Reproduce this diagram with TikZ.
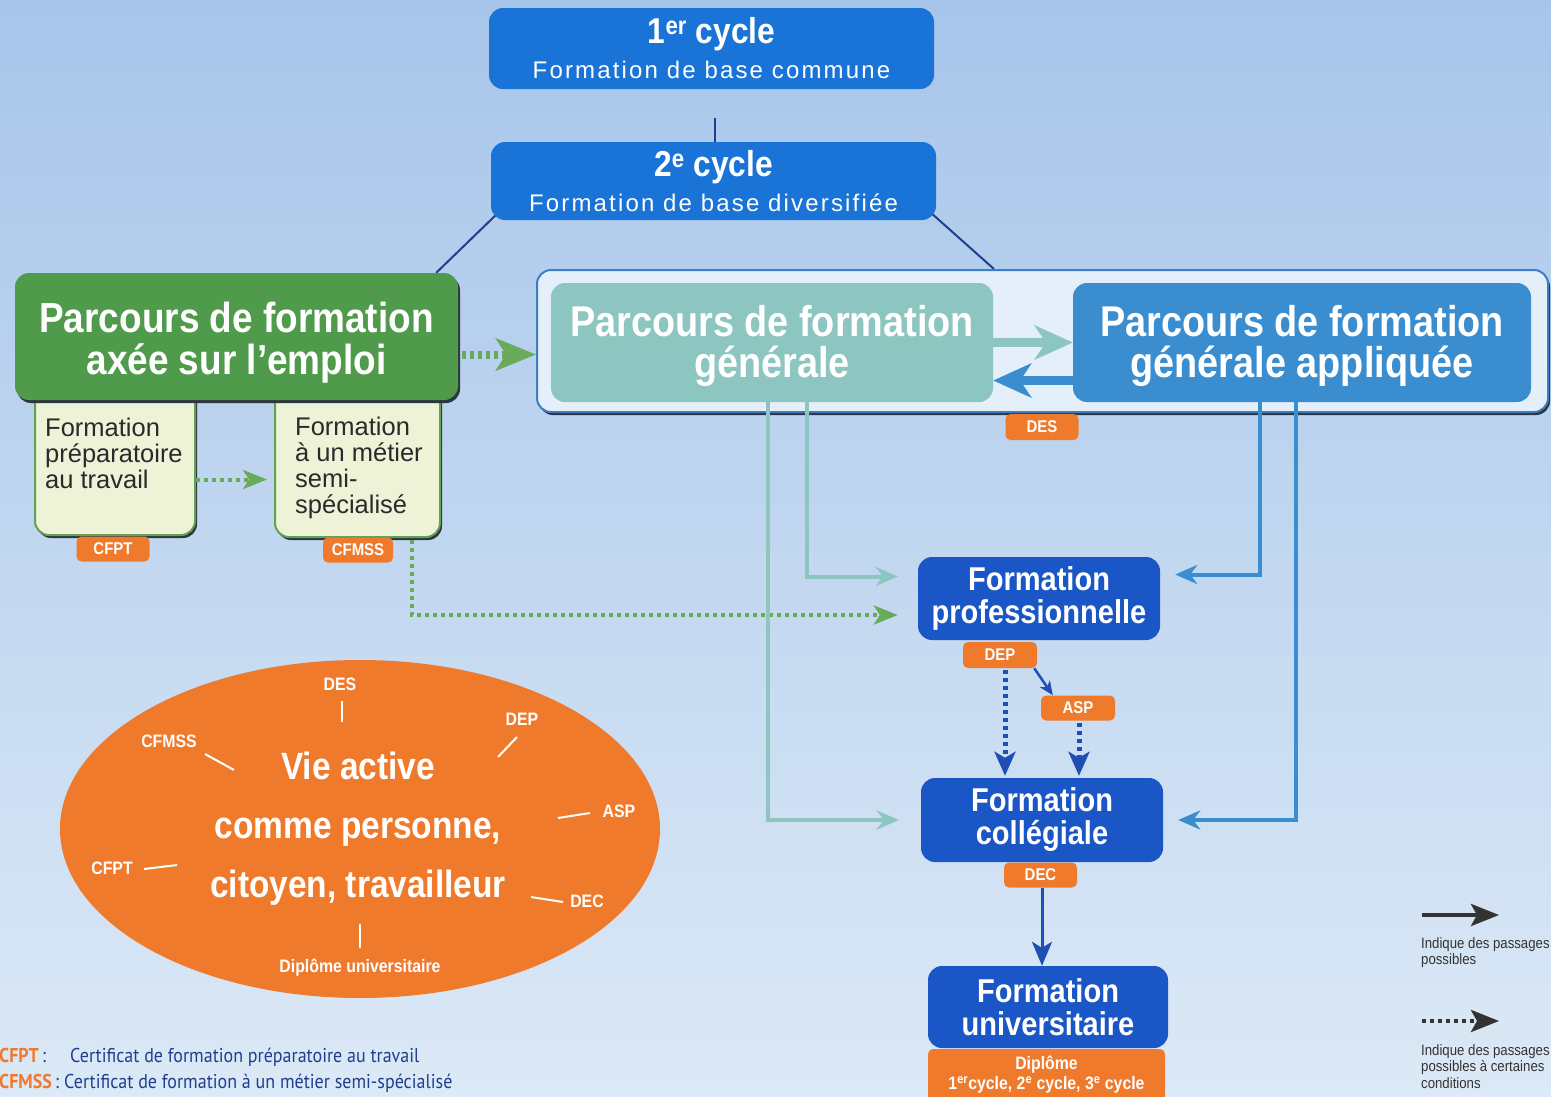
\documentclass[tikz,border=0pt]{standalone}
\usepackage{fontspec}
\setmainfont{Liberation Sans}
\newfontfamily\cf[FakeStretch=0.88]{Liberation Sans}
\newfontfamily\lsf[LetterSpace=9]{Liberation Sans}
\newfontfamily\ptf[FakeStretch=0.9]{PT Sans}
\usetikzlibrary{arrows.meta,shapes.geometric,shadows,calc,backgrounds}
\newcommand\bcf[2]{\cf\bfseries\fontsize{#1}{#2}\selectfont}
\definecolor{bgtop}{HTML}{A7C5EA}
\definecolor{bgbot}{HTML}{DCE9F6}
\definecolor{topblue}{HTML}{1A74D8}
\definecolor{royal}{HTML}{1A56C6}
\definecolor{grn}{HTML}{4F9B4B}
\definecolor{cream}{HTML}{EEF3D8}
\definecolor{creamline}{HTML}{62A052}
\definecolor{orng}{HTML}{F07A2C}
\definecolor{tealc}{HTML}{8DC5C1}
\definecolor{gblue}{HTML}{3A8ED0}
\definecolor{framefill}{HTML}{E4EFF9}
\definecolor{frameline}{HTML}{3C7EC6}
\definecolor{navy}{HTML}{1D3F8E}
\definecolor{arrnavy}{HTML}{1F4FB5}
\definecolor{dotgrn}{HTML}{6AAA5C}
\definecolor{shadowc}{HTML}{2E3440}
\definecolor{legtxt}{HTML}{1F3E8F}
\definecolor{greytxt}{HTML}{333333}
\definecolor{creamtxt}{HTML}{2A2A2A}
\tikzset{
  box/.style={rounded corners=14pt, inner sep=0pt, align=center, text=white},
  tag/.style={fill=orng, rounded corners=5pt, inner sep=0pt, text=white, font=\bcf{17}{19}},
  shad/.style={drop shadow={shadow xshift=2pt, shadow yshift=-3pt, fill=shadowc, opacity=1}},
  tealarr/.style={draw=tealc, line width=4pt, -{Stealth[length=22pt,width=19pt,inset=7pt]}},
  bluearr/.style={draw=gblue, line width=4pt, -{Stealth[length=22pt,width=19pt,inset=7pt]}},
  bigteal/.style={draw=tealc, line width=9pt, -{Stealth[length=38pt,width=34pt,inset=11pt]}},
  bigblue/.style={draw=gblue, line width=9pt, -{Stealth[length=38pt,width=34pt,inset=11pt]}},
  dotg/.style={draw=dotgrn, line width=4pt, dash pattern=on 4pt off 4pt, -{Stealth[length=24pt,width=19pt,inset=6pt]}},
  dotgbig/.style={draw=dotgrn, line width=8pt, dash pattern=on 4pt off 4pt, -{Stealth[length=40pt,width=32pt,inset=10pt]}},
  dotnavy/.style={draw=arrnavy, line width=5pt, dash pattern=on 4pt off 4pt, -{Stealth[length=24pt,width=21pt,inset=6pt]}},
  solidnavy/.style={draw=arrnavy, line width=3pt, -{Stealth[length=24pt,width=20pt,inset=6pt]}},
  thinnavy/.style={draw=arrnavy, line width=2.5pt, -{Stealth[length=14pt,width=12pt,inset=4pt]}},
  legarr/.style={draw=greytxt, line width=4pt, -{Stealth[length=28pt,width=22pt,inset=6pt]}},
  ray/.style={draw=white, line width=2pt},
  elab/.style={text=white, inner sep=0pt, font=\bcf{18}{19}},
  cline/.style={draw=navy, line width=2pt},
  creamtext/.style={anchor=north west, align=left, inner sep=0pt, text=creamtxt, font=\fontsize{25.5}{26}\selectfont},
  legr/.style={anchor=north west, align=left, inner sep=0pt, text=greytxt, font=\cf\fontsize{15}{16.5}\selectfont},
  legl/.style={anchor=base west, inner sep=0pt, text=legtxt, font=\ptf\fontsize{20}{20}\selectfont},
}
\begin{document}
\begin{tikzpicture}[x=1pt,y=-1pt]
\useasboundingbox (0,0) rectangle (1551,1096);
\clip (0,0) rectangle (1551,1096);
\begin{scope}[on background layer]
\shade[top color=bgtop,bottom color=bgbot] (0,0) rectangle (1551,1096);
\end{scope}

% top cycles
\node[box, fill=topblue, minimum width=445pt, minimum height=81pt, font=\fontsize{24}{35}\selectfont] (c1) at (711.5,48.5)
  {{\bcf{36}{35}1\textsuperscript{er} cycle}\\{\lsf Formation de base commune}};
\node[box, fill=topblue, minimum width=445pt, minimum height=78pt, font=\fontsize{24}{35}\selectfont] (c2) at (713.5,181)
  {{\bcf{36}{35}2\textsuperscript{e} cycle}\\{\lsf Formation de base diversifiée}};

% employment path
\node[fill=cream, draw=creamline, line width=2pt, rounded corners=14pt, minimum width=160pt, minimum height=155pt, shad] (fpt) at (115,457.5) {};
\node[fill=cream, draw=creamline, line width=2pt, rounded corners=14pt, minimum width=165pt, minimum height=157pt, shad] (fms) at (357.5,458.5) {};
\node[box, fill=grn, minimum width=443pt, minimum height=127pt, shad, font=\bcf{42}{42}] (emp) at (236.5,336.5)
  {\rule{0pt}{42pt}Parcours de formation\\axée sur l’emploi};
\node[creamtext] (fpttxt) at (45,418) {Formation\\préparatoire\\au travail};
\node[creamtext] (fmstxt) at (295,417) {Formation\\à un métier\\semi-\\spécialisé};
\node[tag, minimum width=73pt, minimum height=25pt] (cfpt) at (113,549) {CFPT};
\node[tag, minimum width=70pt, minimum height=25pt] (cfmss) at (358,550) {CFMSS};

% general paths
\node[fill=framefill, draw=frameline, line width=2pt, rounded corners=14pt, minimum width=1011pt, minimum height=142pt, shad] (frame) at (1042.5,341) {};
\node[box, fill=tealc, minimum width=442pt, minimum height=119pt, font=\bcf{43}{41}] (gen) at (772,342.5)
  {\rule{0pt}{38pt}Parcours de formation\\générale};
\node[box, fill=gblue, minimum width=458pt, minimum height=119pt, font=\bcf{43}{41}] (gapp) at (1302,342.5)
  {\rule{0pt}{38pt}Parcours de formation\\générale appliquée};
\node[tag, minimum width=73pt, minimum height=26pt] (des) at (1042,427) {DES};

% right column
\node[box, fill=royal, minimum width=242pt, minimum height=83pt, font=\bcf{33}{33}] (prof) at (1039,598.5)
  {Formation\\professionnelle};
\node[tag, minimum width=74pt, minimum height=26pt] (dep) at (1000,655) {DEP};
\node[tag, minimum width=74pt, minimum height=25pt] (asp) at (1078,708) {ASP};
\node[box, fill=royal, minimum width=242pt, minimum height=84pt, font=\bcf{33}{33}] (coll) at (1042,820)
  {Formation\\collégiale};
\node[tag, minimum width=73pt, minimum height=25pt] (dec) at (1040.5,875) {DEC};
\node[box, fill=royal, minimum width=240pt, minimum height=82pt, font=\bcf{33}{33}] (univ) at (1048,1007)
  {Formation\\universitaire};
\node[tag, minimum width=237pt, minimum height=52pt, align=center, font=\bcf{18}{20}] (dipl) at (1046.5,1075)
  {Diplôme\\1\textsuperscript{er}cycle, 2\textsuperscript{e} cycle, 3\textsuperscript{e} cycle};

% ellipse
\node[ellipse, fill=orng, minimum width=600pt, minimum height=338pt, inner sep=0pt] (vie) at (360,829) {};
\node[align=center, text=white, inner sep=0pt, font=\bcf{38}{59}] (vietxt) at (358,829)
  {Vie active\\comme personne,\\citoyen, travailleur};
\node[elab] (eDES) at (340,684) {DES};
\node[elab] (eDEP) at (522,719) {DEP};
\node[elab] (eCFMSS) at (169,741) {CFMSS};
\node[elab] (eASP) at (619,811) {ASP};
\node[elab] (eCFPT) at (112,868) {CFPT};
\node[elab] (eDEC) at (587,901) {DEC};
\node[elab] (eDU) at (360,968) {Diplôme universitaire};
\draw[ray] (342,701) -- (342,722);
\draw[ray] (517,737) -- (498,757);
\draw[ray] (205,754) -- (234,770);
\draw[ray] (558,818) -- (590,813);
\draw[ray] (144,869) -- (177,865);
\draw[ray] (531,897) -- (563,902);
\draw[ray] (360,924) -- (360,948);

% connectors from 2e cycle (behind boxes)
\begin{scope}[on background layer]
\coordinate (v1) at ($(c2.north)+(1.5,0)$);
\draw[cline] ($(v1)+(0,-24)$) -- (v1);
\draw[cline] ($(c2.south west)+(9,-9)$) -- ($(emp.north east)+(-22,0)$);
\draw[cline] ($(c2.south east)+(-6,-8)$) -- ($(frame.north west)+(458,0)$);
\end{scope}

% dotted green connectors
\coordinate (e1) at ($(emp.east)+(4,18)$);
\draw[dotgbig] (e1) -- (e1 -| frame.west);
\coordinate (f1) at ($(fpt.east)+(0,22)$);
\draw[dotg, shorten >=7pt] (f1) -- (f1 -| fms.west);
\coordinate (g1) at ($(fms.south west)+(138,2)$);
\draw[dotg, shorten >=20pt] (g1) |- ($(prof.west)+(0,16.5)$);

% teal and blue connectors
\draw[bigteal] (gen.east) -- (gen.east -| gapp.west);
\coordinate (r1) at ($(gapp.west)+(0,38)$);
\draw[bigblue] (r1) -- (r1 -| gen.east);
\coordinate (t1) at ($(gen.south west)+(217,0)$);
\draw[tealarr, shorten >=22pt] (t1) |- (coll.west);
\coordinate (t2) at ($(gen.south west)+(256,0)$);
\draw[tealarr, shorten >=20pt] (t2) |- ($(prof.west)+(0,-22)$);
\coordinate (b1) at ($(gapp.south west)+(187,0)$);
\draw[bluearr, shorten >=15pt] (b1) |- ($(prof.east)+(0,-24)$);
\coordinate (b2) at ($(gapp.south west)+(223,0)$);
\draw[bluearr, shorten >=15pt] (b2) |- (coll.east);

% navy connectors
\coordinate (d1) at ($(dep.south)+(5,2)$);
\draw[dotnavy, shorten >=2pt] (d1) -- (d1 |- coll.north);
\coordinate (a1) at ($(asp.south)+(1,2)$);
\draw[dotnavy, shorten >=2pt] (a1) -- (a1 |- coll.north);
\draw[thinnavy] ($(dep.south east)+(-3,0)$) -- ($(asp.north west)+(12,0)$);
\coordinate (u1) at ($(dec.south)+(1.5,0)$);
\draw[solidnavy] (u1) -- (u1 |- univ.north);

% legend right
\coordinate (ls1) at (1422,915);
\coordinate (ls2) at (1499,915);
\draw[legarr] (ls1) -- (ls2);
\node[legr] (leg1) at (1421,937) {Indique des passages\\possibles};
\coordinate (ld1) at (1422,1021);
\coordinate (ld2) at (1499,1021);
\draw[legarr, dash pattern=on 4pt off 4pt] (ld1) -- (ld2);
\node[legr] (leg2) at (1421,1044) {Indique des passages\\possibles à certaines\\conditions};

% legend bottom left
\node[legl] (k1) at (-1,1062) {\textcolor{orng}{\bfseries CFPT}\,:};
\node[legl] (k1t) at (70,1062) {Certificat de formation préparatoire au travail};
\node[legl] (k2) at (-1,1088) {\textcolor{orng}{\bfseries CFMSS}\,:};
\node[legl] (k2t) at (64,1088) {Certificat de formation à un métier semi-spécialisé};
\end{tikzpicture}
\end{document}
